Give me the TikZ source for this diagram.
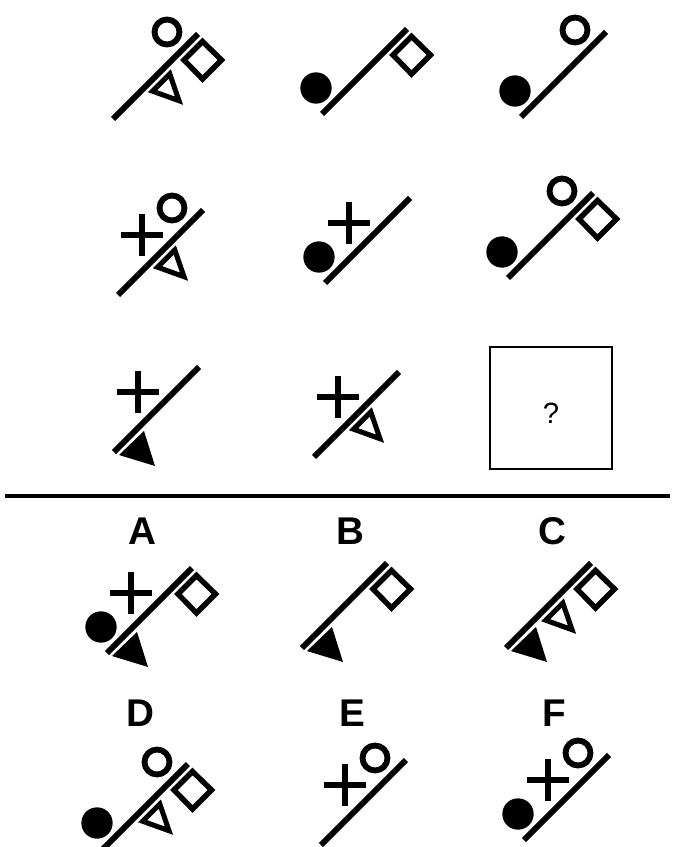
\documentclass[tikz,border=0pt]{standalone}
\usepackage{fontspec}
\setmainfont{Liberation Sans}
\tikzset{
  mainline/.style={line width=5.0pt},
  outl/.style={line width=4.6pt, line join=miter},
  ringl/.style={line width=5.0pt},
  crossl/.style={line width=5.5pt},
  lettr/.style={font=\fontsize{33}{33}\selectfont\bfseries, inner sep=0pt},
}
\newcommand\pzLine{\draw[mainline] (0,0) -- (85,-85);}
\newcommand\pzRing{\draw[ringl] (54,-87) circle[radius=0.375cm];}
\newcommand\pzDot{\fill (-6,-26) circle[radius=0.47cm];}
\newcommand\pzSquare{\draw[outl] (89.5,-77.5) -- (108.5,-59) -- (89.5,-40) -- (71,-59) -- cycle;}
\newcommand\pzCross{\draw[crossl] (3,-60) -- (45,-60) (24,-81) -- (24,-39);}
\newcommand\pzTri{\draw[outl, line width=4.3pt] (39.6,-27.8) -- (56.8,-45.0) -- (66.0,-18.3) -- cycle;}
\newcommand\pzFTri{\fill (5,3) -- (30,-21) -- (41,14) -- cycle;}
\begin{document}
\begin{tikzpicture}[x=0.03cm, y=-0.03cm]
\useasboundingbox (0,0) rectangle (675,847);
\clip (0,0) rectangle (675,847);
% row 1
\begin{scope}[shift={(113,119)}] \pzLine \pzRing \pzSquare \pzTri \end{scope}
\begin{scope}[shift={(322,114)}] \pzLine \pzDot \pzSquare \end{scope}
\begin{scope}[shift={(521,117)}] \pzLine \pzDot \pzRing \end{scope}
% row 2
\begin{scope}[shift={(118,295)}] \pzLine \pzRing \pzCross \pzTri \end{scope}
\begin{scope}[shift={(325,283)}] \pzLine \pzCross \pzDot \end{scope}
\begin{scope}[shift={(508,278)}] \pzLine \pzRing \pzSquare \pzDot \end{scope}
% row 3
\begin{scope}[shift={(114,452)}] \pzLine \pzCross \pzFTri \end{scope}
\begin{scope}[shift={(314,457)}] \pzLine \pzCross \pzTri \end{scope}
\draw[line width=1.7pt] (490,347) rectangle (612,469);
\node[font=\fontsize{25}{25}\selectfont, inner sep=0pt] (qm) at (551,413) {?};
% divider
\draw[line width=3pt] (5,496) -- (670,496);
% options
\node[lettr] (la) at (142,531) {A};
\node[lettr] (lb) at (350,531) {B};
\node[lettr] (lc) at (552,531) {C};
\node[lettr] (ld) at (140,713) {D};
\node[lettr] (le) at (352,713) {E};
\node[lettr] (lf) at (554,713) {F};
\begin{scope}[shift={(107,653)}] \pzLine \pzCross \pzDot \pzSquare \pzFTri \end{scope}
\begin{scope}[shift={(302,648)}] \pzLine \pzSquare \pzFTri \end{scope}
\begin{scope}[shift={(506,648)}] \pzLine \pzSquare \pzTri \pzFTri \end{scope}
\begin{scope}[shift={(103,849)}] \pzLine \pzRing \pzSquare \pzTri \pzDot \end{scope}
\begin{scope}[shift={(321,845)}] \pzLine \pzRing \pzCross \end{scope}
\begin{scope}[shift={(524,840)}] \pzLine \pzRing \pzCross \pzDot \end{scope}
\end{tikzpicture}
\end{document}
